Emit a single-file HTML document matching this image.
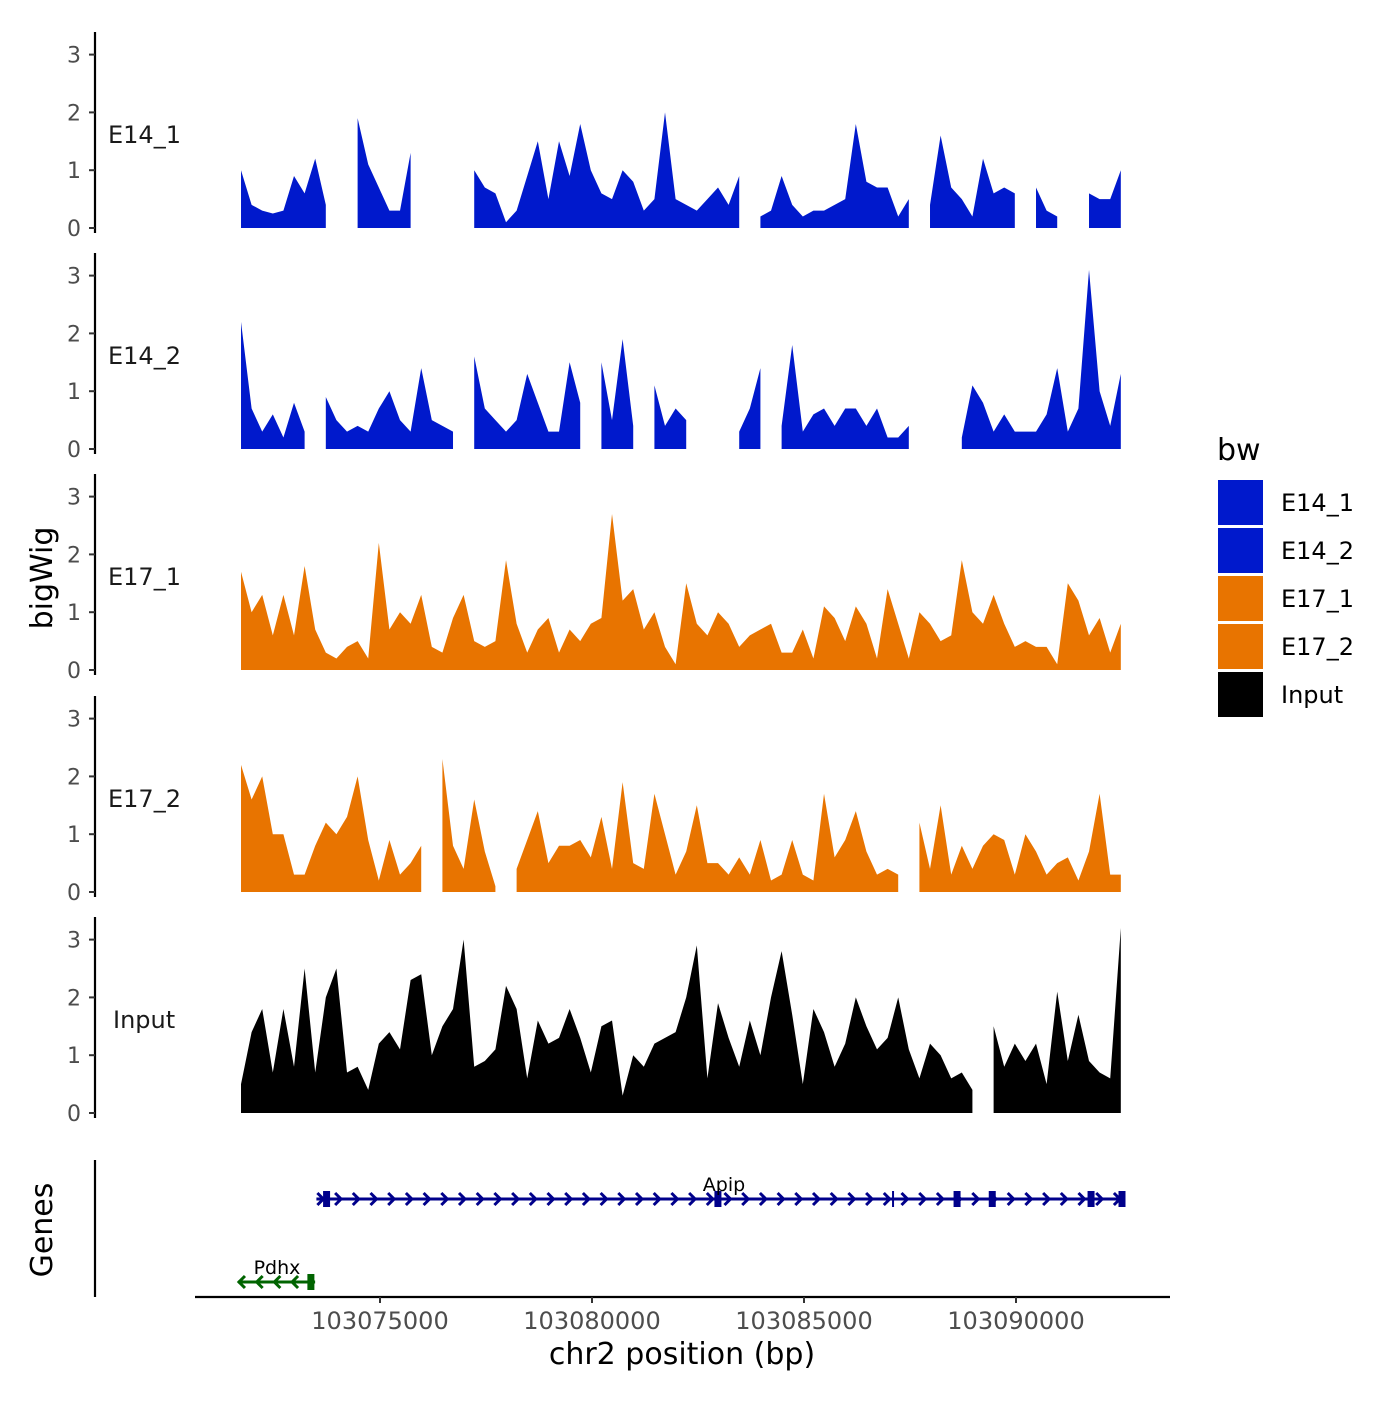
<!DOCTYPE html>
<html><head><meta charset="utf-8"><style>
body{margin:0;background:#fff}
svg text{font-family:"DejaVu Sans","Liberation Sans",sans-serif}
</style></head><body>
<svg id="chart" width="1400" height="1400" viewBox="0 0 1400 1400" xmlns="http://www.w3.org/2000/svg">
<rect width="1400" height="1400" fill="#fff"/>
<g id="tracks"></g>
<g id="genes"></g>
<g id="xaxis"></g>
<text transform="translate(52,578) rotate(-90)" text-anchor="middle" font-size="30" fill="#000">bigWig</text>
<text transform="translate(52,1230) rotate(-90)" text-anchor="middle" font-size="30" fill="#000">Genes</text>
<text x="682" y="1364" text-anchor="middle" font-size="30" fill="#000">chr2 position (bp)</text>
<g id="legend"></g>
</svg>
<script>
const trackNames = ["E14_1","E14_2","E17_1","E17_2","Input"];
const trackColors = ["#0019cc","#0019cc","#e87400","#e87400","#000000"];
const binStart = 103071722;
const binSize = 250;
const yTicks = [0,1,2,3];
const xTicks = [103075000,103080000,103085000,103090000];
const xTickLabels = ["103075000","103080000","103085000","103090000"];
const e14_1 = [1.0,0.4,0.3,0.25,0.3,0.9,0.6,1.2,0.4,null,null,1.9,1.1,0.7,0.3,0.3,1.3,null,null,0.4,null,null,1.0,0.7,0.6,0.1,0.3,0.9,1.5,0.5,1.5,0.9,1.8,1.0,0.6,0.5,1.0,0.8,0.3,0.5,2.0,0.5,0.4,0.3,0.5,0.7,0.4,0.9,null,0.2,0.3,0.9,0.4,0.2,0.3,0.3,0.4,0.5,1.8,0.8,0.7,0.7,0.2,0.5,null,0.4,1.6,0.7,0.5,0.2,1.2,0.6,0.7,0.6,null,0.7,0.3,0.2,null,null,0.6,0.5,0.5,1.0];
const e14_2 = [2.2,0.7,0.3,0.6,0.2,0.8,0.3,null,0.9,0.5,0.3,0.4,0.3,0.7,1.0,0.5,0.3,1.4,0.5,0.4,0.3,null,1.6,0.7,0.5,0.3,0.5,1.3,0.8,0.3,0.3,1.5,0.8,null,1.5,0.5,1.9,0.4,null,1.1,0.4,0.7,0.5,null,0.2,null,null,0.3,0.7,1.4,null,0.4,1.8,0.3,0.6,0.7,0.4,0.7,0.7,0.4,0.7,0.2,0.2,0.4,null,0.3,null,null,0.2,1.1,0.8,0.3,0.6,0.3,0.3,0.3,0.6,1.4,0.3,0.7,3.1,1.0,0.4,1.3];
const e17_1 = [1.7,1.0,1.3,0.6,1.3,0.6,1.8,0.7,0.3,0.2,0.4,0.5,0.2,2.2,0.7,1.0,0.8,1.3,0.4,0.3,0.9,1.3,0.5,0.4,0.5,1.9,0.8,0.3,0.7,0.9,0.3,0.7,0.5,0.8,0.9,2.7,1.2,1.4,0.7,1.0,0.4,0.1,1.5,0.8,0.6,1.0,0.8,0.4,0.6,0.7,0.8,0.3,0.3,0.7,0.2,1.1,0.9,0.5,1.1,0.8,0.2,1.4,0.8,0.2,1.0,0.8,0.5,0.6,1.9,1.0,0.8,1.3,0.8,0.4,0.5,0.4,0.4,0.1,1.5,1.2,0.6,0.9,0.3,0.8];
const e17_2 = [2.2,1.6,2.0,1.0,1.0,0.3,0.3,0.8,1.2,1.0,1.3,2.0,0.9,0.2,0.9,0.3,0.5,0.8,null,2.3,0.8,0.4,1.6,0.7,0.1,null,0.4,0.9,1.4,0.5,0.8,0.8,0.9,0.6,1.3,0.4,1.9,0.5,0.4,1.7,1.0,0.3,0.7,1.5,0.5,0.5,0.3,0.6,0.3,0.9,0.2,0.3,0.9,0.3,0.2,1.7,0.6,0.9,1.4,0.7,0.3,0.4,0.3,null,1.2,0.4,1.5,0.3,0.8,0.4,0.8,1.0,0.9,0.3,1.0,0.7,0.3,0.5,0.6,0.2,0.7,1.7,0.3,0.3];
const input = [0.5,1.4,1.8,0.7,1.8,0.8,2.5,0.7,2.0,2.5,0.7,0.8,0.4,1.2,1.4,1.1,2.3,2.4,1.0,1.5,1.8,3.0,0.8,0.9,1.1,2.2,1.8,0.6,1.6,1.2,1.3,1.8,1.3,0.7,1.5,1.6,0.3,1.0,0.8,1.2,1.3,1.4,2.0,2.9,0.6,1.9,1.3,0.8,1.6,1.0,2.0,2.8,1.7,0.5,1.8,1.4,0.8,1.2,2.0,1.5,1.1,1.3,2.0,1.1,0.6,1.2,1.0,0.6,0.7,0.4,null,1.5,0.8,1.2,0.9,1.2,0.5,2.1,0.9,1.7,0.9,0.7,0.6,3.2];
const trackValues = [e14_1,e14_2,e17_1,e17_2,input];
const genes = ["Apip","Pdhx"];
const geneStarts = [103073500,103071650];
const geneEnds = [103092570,103073470];
const geneStrands = ["+","-"];
const apipExons = [103073740,103082970,103087100,103088610,103089440,103091770,103092500];
const pdhxExons = [103073370];

const NS="http://www.w3.org/2000/svg";
function mk(tag,attrs,parent){const e=document.createElementNS(NS,tag);for(const k in attrs)e.setAttribute(k,attrs[k]);parent.appendChild(e);return e;}
function xs(bp){return 380+(bp-103075000)*212/5000;}
const panelBase=[228,449,670,892,1113];
const unit=57.8;
function ys(p,v){return panelBase[p]-v*unit;}

const tracks=document.getElementById('tracks');
trackNames.forEach((nm,p)=>{
  const g=mk('g',{},tracks);
  
  
  const ax=mk('line',{x1:95,x2:95,y1:panelBase[p]-196,y2:panelBase[p]+5,stroke:'#000','stroke-width':2.2},g);
  
  
  yTicks.forEach(t=>{
    const tk=mk('line',{x1:89,x2:95,y1:ys(p,t),y2:ys(p,t),stroke:'#333','stroke-width':2},g);
    
    
    const tl=mk('text',{x:81,y:ys(p,t)+8,'text-anchor':'end','font-size':22,fill:'#4d4d4d'},g);
    tl.textContent=t;
    
    
  });
  const lab=mk('text',{x:p==4?113:108,y:panelBase[p]-85,'font-size':24,fill:'#1a1a1a'},g);
  lab.textContent=nm;
  
  
  const vals=trackValues[p];
  let seg=[];
  const flush=()=>{
    if(seg.length){
      let d='M'+seg[0][0]+','+panelBase[p];
      seg.forEach(s=>d+='L'+s[0]+','+s[1]);
      d+='L'+seg[seg.length-1][0]+','+panelBase[p]+'Z';
      const a=mk('path',{d:d,fill:trackColors[p]},g);
      
      
    }
    seg=[];
  };
  vals.forEach((v,i)=>{
    const x=xs(binStart+i*binSize);
    if(v===null){flush();}else seg.push([x,ys(p,v)]);
  });
  flush();
});

const gp=document.getElementById('genes');
const gax=mk('line',{x1:95,x2:95,y1:1160,y2:1297,stroke:'#000','stroke-width':2.2},gp);


const geneY=[1199,1282];
const geneCol=["#00008b","#006400"];
const exonSets=[apipExons,pdhxExons];
genes.forEach((gn,gi)=>{
  const g=mk('g',{},gp);
  
  
  const x1=xs(geneStarts[gi]),x2=xs(geneEnds[gi]),y=geneY[gi],c=geneCol[gi];
  mk('line',{x1:x1,x2:x2,y1:y,y2:y,stroke:c,'stroke-width':3},g);
  const dir=geneStrands[gi]=='+'?1:-1;
  for(let x=x1+4;x<x2-4;x+=17.7){
    mk('path',{d:`M${x-3*dir},${y-6}L${x+3*dir},${y}L${x-3*dir},${y+6}`,stroke:c,'stroke-width':3,fill:'none'},g);
  }
  exonSets[gi].forEach((e,k)=>{
    const w=(gi==0&&k==2)?2:7;
    const r=mk('rect',{x:xs(e)-w/2,y:y-8,width:w,height:16,fill:c},g);
    
    
  });
  const t=mk('text',{x:gi==0?724:277,y:y-8,'text-anchor':'middle','font-size':19,fill:'#000'},g);
  t.textContent=gn;
  
  
});

const xa=document.getElementById('xaxis');
mk('line',{x1:195,x2:1170,y1:1297,y2:1297,stroke:'#000','stroke-width':2.2},xa);
xTicks.forEach((t,i)=>{
  const tk=mk('line',{x1:xs(t),x2:xs(t),y1:1297,y2:1303,stroke:'#333','stroke-width':2},xa);
  
  
  const tl=mk('text',{x:xs(t),y:1329,'text-anchor':'middle','font-size':24,fill:'#4d4d4d'},xa);
  tl.textContent=xTickLabels[i];
  
  
});

const lg=document.getElementById('legend');
const lt=mk('text',{x:1217,y:460,'font-size':30,fill:'#000'},lg);
lt.textContent='bw';


trackNames.forEach((nm,i)=>{
  const g=mk('g',{},lg);
  
  
  mk('rect',{x:1218,y:480+i*48,width:45,height:45,fill:trackColors[i]},g);
  const t=mk('text',{x:1281,y:511+i*48,'font-size':24,fill:'#000'},g);
  t.textContent=nm;
});
</script>
</body></html>
